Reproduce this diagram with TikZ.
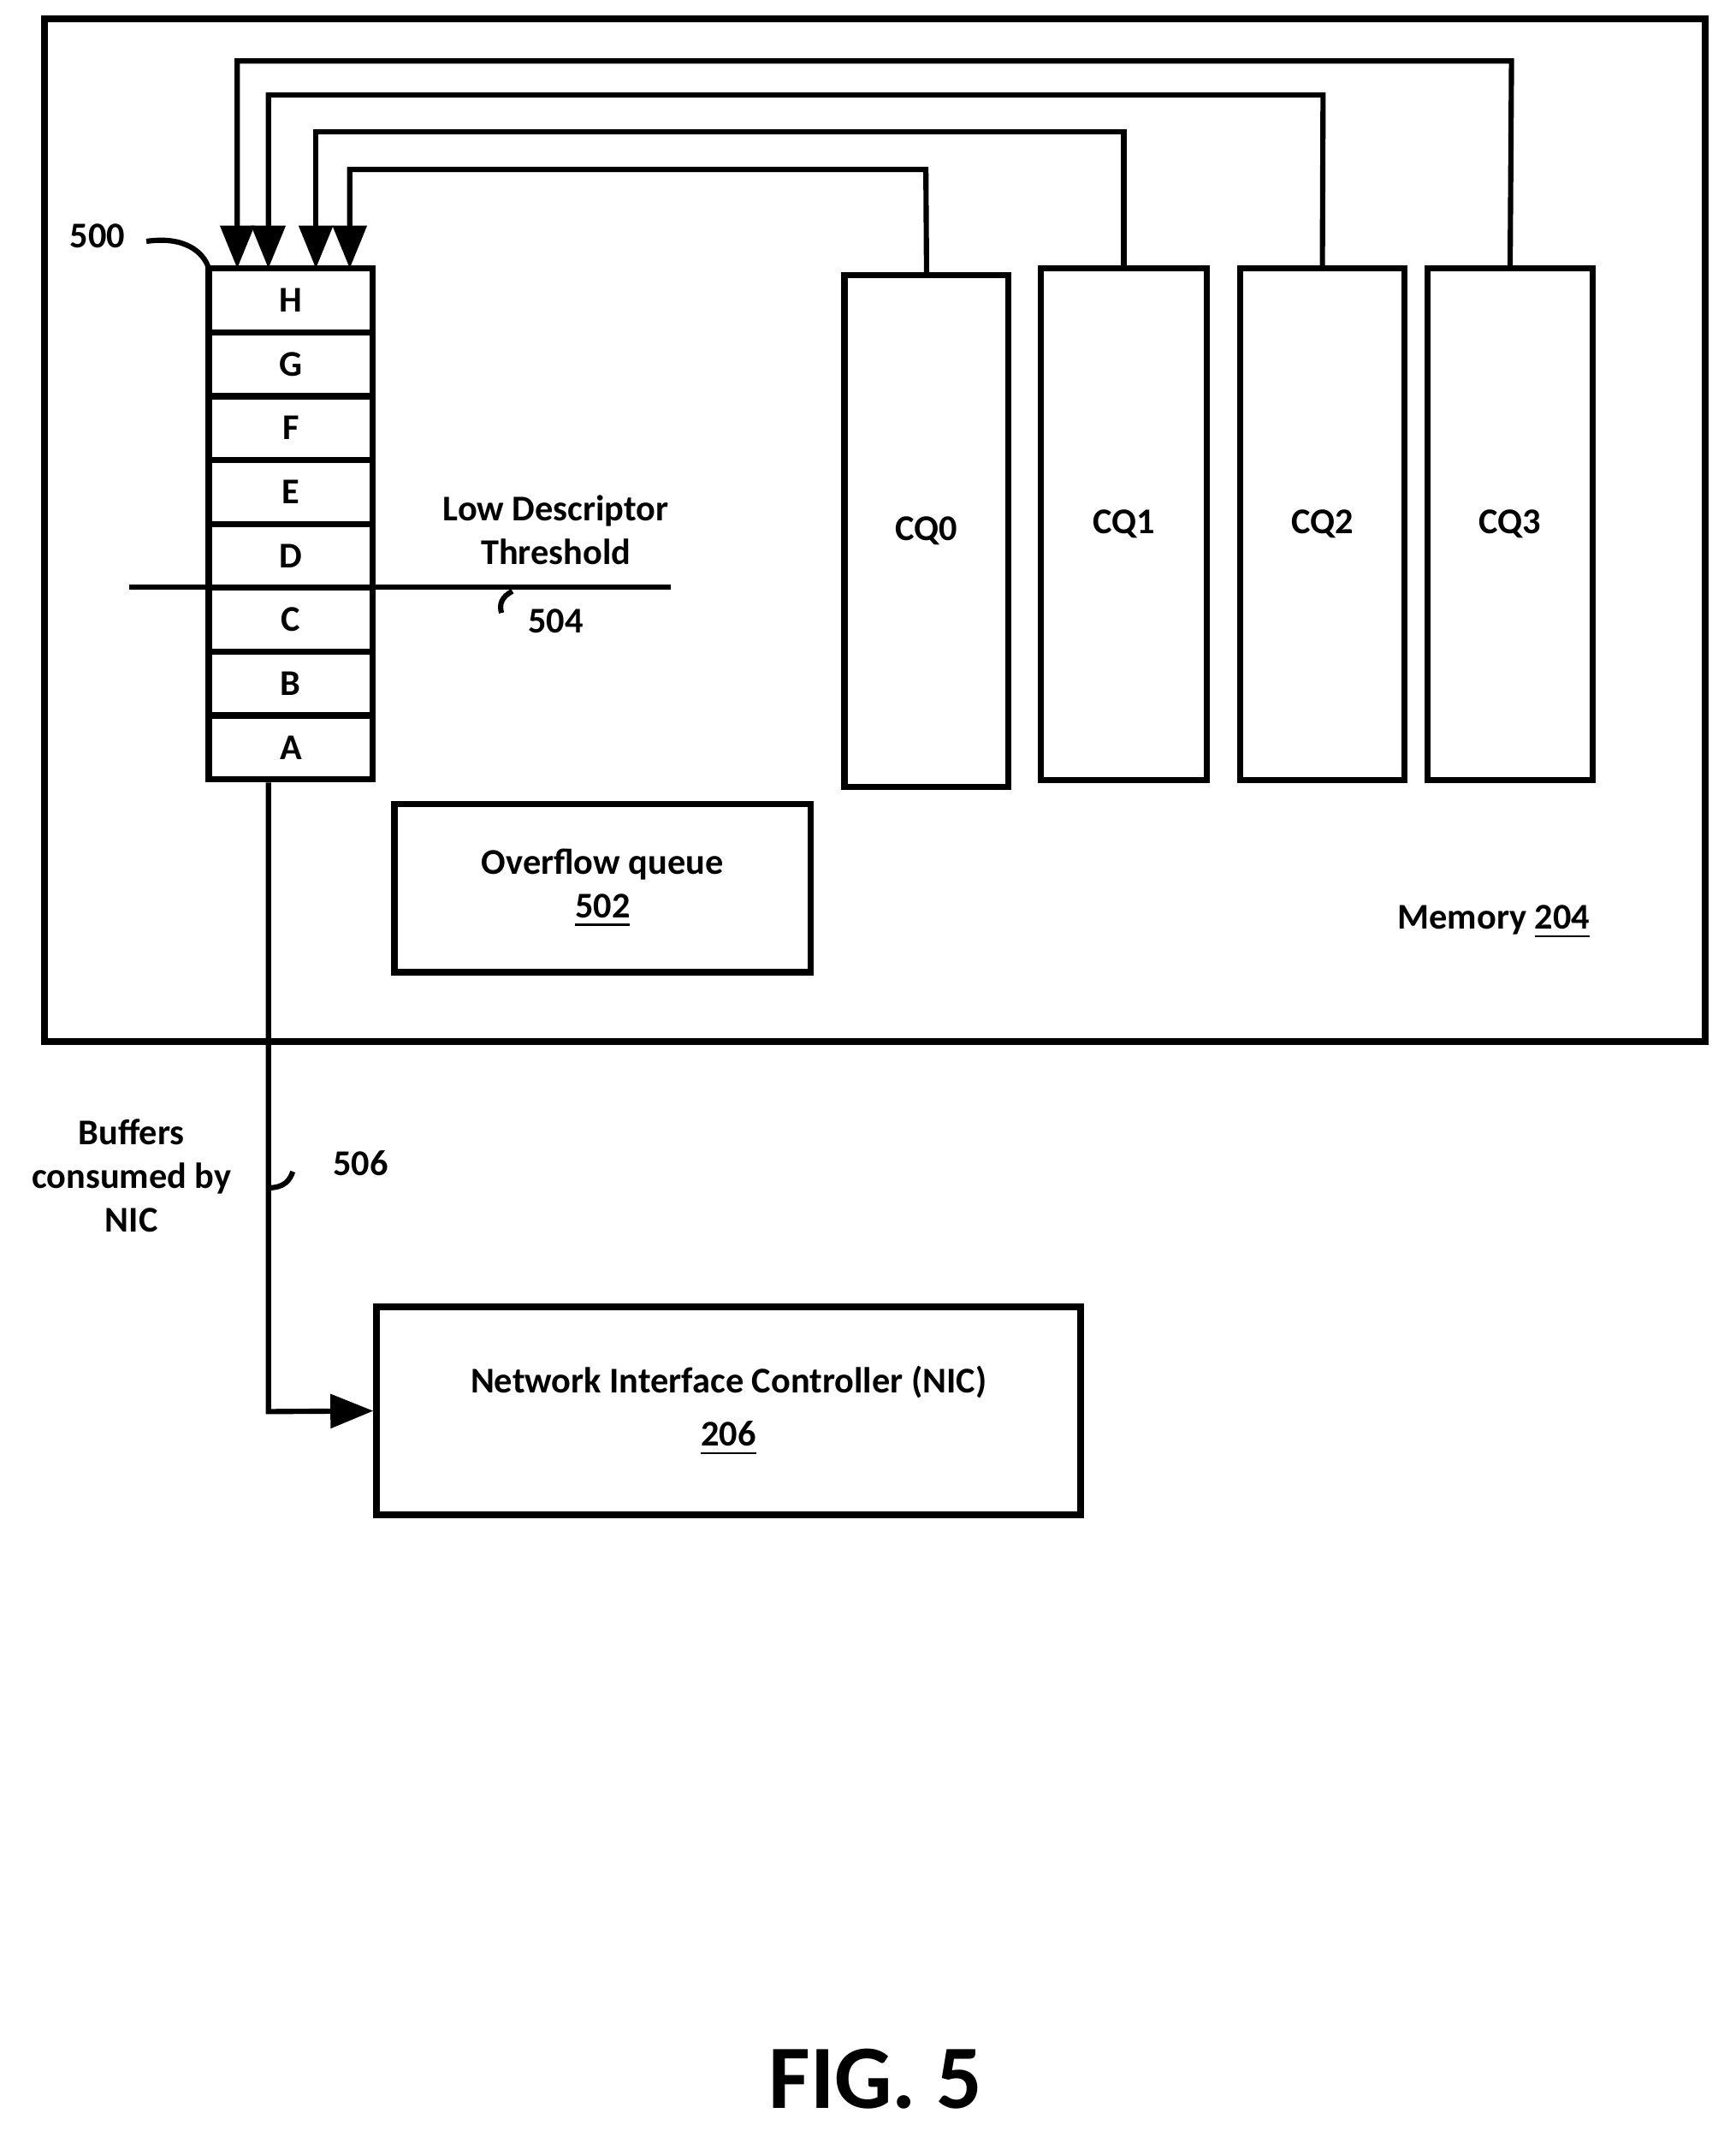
\documentclass[tikz,border=0pt]{standalone}
\usepackage{fontspec}
\setmainfont{Carlito}
\usetikzlibrary{arrows.meta}
\begin{document}
\begin{tikzpicture}[x=0.01cm,y=-0.01cm,line width=1.1pt,
  box/.style={draw,line width=1.3pt,inner sep=0},
  lbl/.style={font=\fontsize{7.6}{9.2}\selectfont\bfseries,align=center},
  arr/.style={-{Triangle[length=9pt,width=7pt]}}]
\useasboundingbox (0,0) rectangle (1280,1576);
\draw[line width=1.4pt] (33,14) rectangle (1258,768);
% stack
\foreach \t [count=\i from 0] in {H,G,F,E,D,C,B,A}{
  \node[box,minimum width=121*0.01cm,minimum height=47.1*0.01cm,lbl] (s\t) at (214.5,221.5+\i*47.1) {\t};
}
\coordinate (stop) at (214.5,198);
% CQs
\node[box,minimum width=0.121cm*10,minimum height=3.77cm,lbl] (cq0) at (683.5,391.5) {CQ0};
\node[box,minimum width=1.22cm,minimum height=3.77cm,lbl] (cq1) at (829,386.5) {CQ1};
\node[box,minimum width=1.21cm,minimum height=3.77cm,lbl] (cq2) at (975.5,386.5) {CQ2};
\node[box,minimum width=1.22cm,minimum height=3.77cm,lbl] (cq3) at (1114,386.5) {CQ3};
\draw[arr] (cq3.north) -- (1115,45) -- (175,45) -- (175,198);
\draw[arr] (cq2.north) -- (976,70) -- (198,70) -- (198,198);
\draw[arr] (cq1.north) -- (829,97) -- (233,97) -- (233,198);
\draw[arr] (cq0.north) -- (683,125) -- (258,125) -- (258,198);
% threshold
\draw (95,433) -- (495,433);
\node[lbl] (thr) at (410,391) {Low Descriptor\\Threshold};
\draw (378,436) .. controls (370,440) and (368,446) .. (370,452);
\node[lbl] (n504) at (410,458) {504};
\node[lbl] (n500) at (72,174) {500};
\draw (108,178) .. controls (135,174) and (150,185) .. (154,198);
% overflow
\node[box,minimum width=3.07cm,minimum height=1.24cm,lbl] (ovf) at (444.5,655) {Overflow queue\\\underline{502}};
\node[lbl] (mem) at (1102,680) {Memory \underline{204}};
% NIC
\node[box,minimum width=5.19cm,minimum height=1.53cm,lbl,line width=1.4pt] (nic) at (537.5,1040.5) {Network Interface Controller (NIC)\\[2pt]\underline{206}};
\draw[arr] (sA.south -| 198,0) -- (198,1041) -- (nic.west);
\node[lbl] (buf) at (97,867) {Buffers\\consumed by\\NIC};
\draw (198,876) .. controls (210,876) and (214,870) .. (216,864);
\node[lbl] (n506) at (266,858) {506};
\node[font=\fontsize{19}{22}\selectfont\bfseries] (fig) at (646,1533) {FIG. 5};
\end{tikzpicture}
\end{document}
